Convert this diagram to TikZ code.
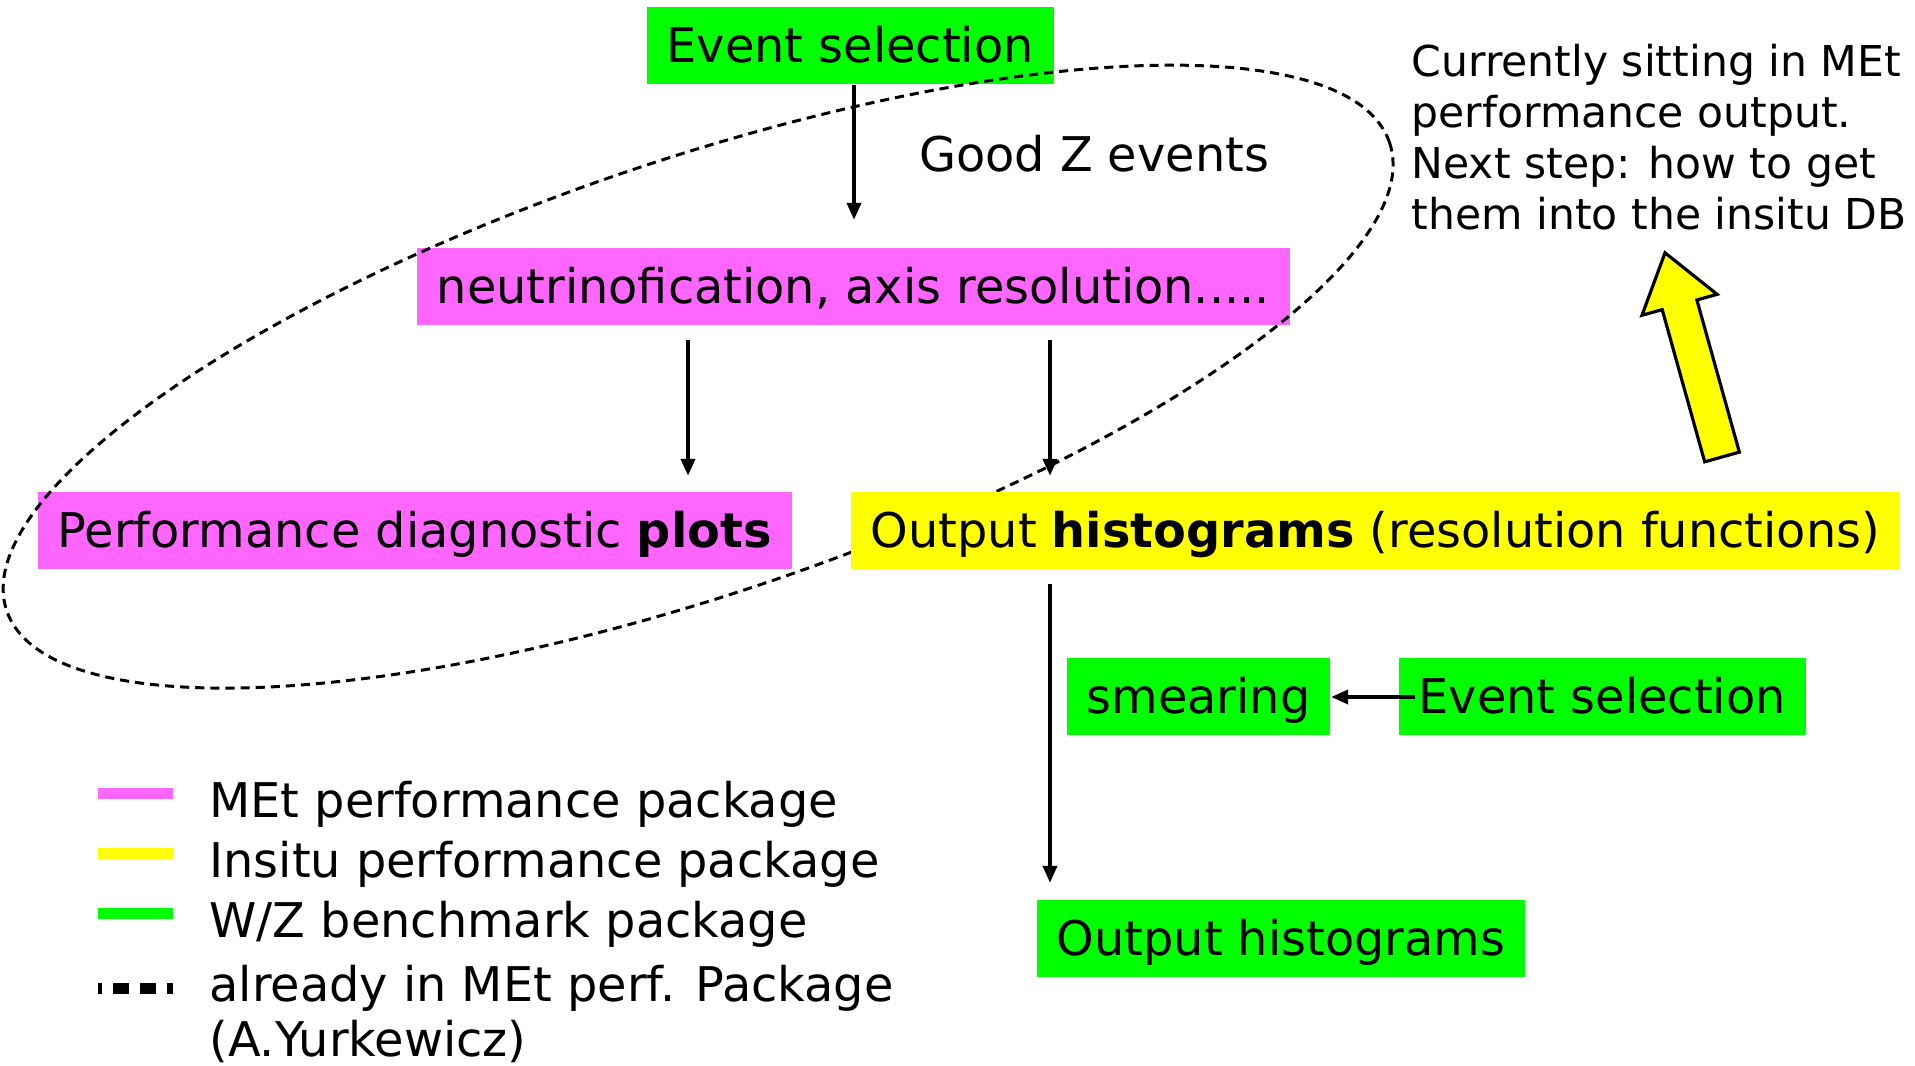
\documentclass[tikz,border=0pt]{standalone}
\usepackage{fontspec}
\setmainfont{DejaVu Sans}
\usetikzlibrary{arrows.meta}

\begin{document}
\begin{tikzpicture}[
    font=\fontsize{13.6}{16}\selectfont,
    box/.style={anchor=west, inner xsep=0.2cm, inner ysep=0.1cm, minimum height=0.77cm, text height=0.34cm, text depth=0cm},
    flow/.style={-{Triangle[length=1.7mm,width=1.4mm]}, line width=1.1pt},
]
    \definecolor{pkg_met}{HTML}{FF66FF}
    \definecolor{pkg_insitu}{HTML}{FFFF00}
    \definecolor{pkg_wz}{HTML}{00FF00}
    %\draw[help lines] (0,0) grid (19,10);
    \useasboundingbox (0,0) rectangle (19.15,10.66);

    \node[box, fill=pkg_wz] (evsel1) at (6.46,10.20) {Event selection};
    \node[box, fill=pkg_met] (neutrino) at (4.16,7.79) {neutrinofication, axis resolution.....};
    \node[box, fill=pkg_met] (perf) at (0.37,5.35) {Performance diagnostic \textbf{plots}};

    % already in MEt perf. package (over green/pink, under yellow)
    \draw[dash pattern=on 2.6pt off 1.7pt, line width=0.85pt, rotate around={18.7:(7.00,6.90)}]
        (6.98,6.90) ellipse [x radius=7.30, y radius=2.17];

    \node[box, fill=pkg_insitu] (histo) at (8.50,5.35) {Output \textbf{histograms} (resolution functions)};
    \node[box, fill=pkg_wz] (smear) at (10.66,3.69) {smearing};
    \node[box, fill=pkg_wz] (evsel2) at (13.98,3.69) {Event selection};
    \node[box, fill=pkg_wz] (output2) at (10.36,1.27) {Output histograms};

    \node[anchor=base] (goodz) at (10.94,8.94) {Good Z events};

    \coordinate (col1) at (8.54,0);
    \coordinate (col2) at (6.88,0);
    \coordinate (col3) at (10.50,0);
    \draw[flow, shorten >=0.28cm] (evsel1.south -| col1) -- (neutrino.north -| col1);
    \draw[flow, shorten <=0.14cm, shorten >=0.16cm] (neutrino.south -| col2) -- (perf.north -| col2);
    \draw[flow, shorten <=0.14cm, shorten >=0.16cm] (neutrino.south -| col3) -- (histo.north -| col3);
    \draw[flow, shorten <=0.14cm, shorten >=0.17cm] (histo.south -| col3) -- (output2.north -| col3);
    \draw[flow, shorten <=-0.17cm] (evsel2.west) -- (smear.east);

    \node[anchor=north west, align=left, inner sep=0pt, font=\fontsize{12.1}{14.5}\selectfont] (note) at (14.11,10.22)
        {Currently sitting in MEt\\performance output.\\Next step: how to get\\them into the insitu DB};

    \begin{scope}[shift={(17.22,6.09)}, rotate=105.6]
        \filldraw[fill=pkg_insitu, line width=0.9pt] (0,-0.18) -- (1.58,-0.18) -- (1.58,-0.39) -- (2.12,0)
            -- (1.58,0.39) -- (1.58,0.18) -- (0,0.18) -- cycle;
    \end{scope}

    % legend
    \foreach \col/\yy/\txt [count=\i] in {pkg_met/2.72/MEt performance package,
            pkg_insitu/2.12/Insitu performance package, pkg_wz/1.52/{W/Z benchmark package}} {
        \fill[\col] (0.98,\yy-0.055) rectangle (1.73,\yy+0.055);
        \node[anchor=base west] (leg\i) at (1.97,\yy-0.24) {\txt};
    }
    \draw[line width=0.11cm, dash pattern=on 0.16cm off 0.11cm, dash phase=0.12cm] (0.98,0.77) -- (1.73,0.77);
    \node[anchor=base west, align=left, font=\fontsize{13.6}{15.7}\selectfont] (leg4) at (1.97,0.09)
        {already in MEt perf. Package\\(A.Yurkewicz)};

\end{tikzpicture}
\end{document}
